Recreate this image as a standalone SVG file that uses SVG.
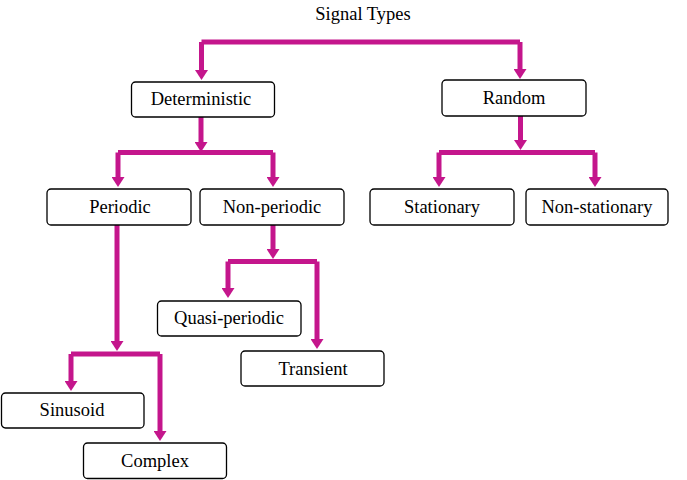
<svg xmlns="http://www.w3.org/2000/svg" width="687" height="480" viewBox="0 0 687 480">
<style>
.box{fill:#fff;stroke:#000;stroke-width:1.3}
.lbl{font-family:"Liberation Serif","Times New Roman",serif;font-size:18.5px;fill:#000;text-anchor:middle}
.c{fill:none;stroke:#C4168C;stroke-width:5;stroke-linejoin:miter;stroke-linecap:butt}
.a{marker-end:url(#ah)}
</style>
<defs>
<marker id="ah" viewBox="0 0 10 13" refX="1" refY="6.5" markerWidth="10" markerHeight="13" markerUnits="userSpaceOnUse" orient="auto">
<path d="M0,0 L10,6.5 L0,13 z" fill="#C4168C"/>
</marker>
</defs>
<rect width="687" height="480" fill="#fff"/>
<text class="lbl" x="363" y="19.5">Signal Types</text>
<g id="connectors">
<path class="c" d="M201.5,42 H520"/>
<path class="c a" d="M201.5,42 V71"/>
<path class="c a" d="M520,42 V70"/>
<path class="c a" d="M201,117 V143"/>
<path class="c" d="M118,152.5 H273"/>
<path class="c a" d="M118,152.5 V178"/>
<path class="c a" d="M273,152.5 V178"/>
<path class="c a" d="M520.5,116 V141"/>
<path class="c" d="M439,152.5 H595"/>
<path class="c a" d="M439,152.5 V178"/>
<path class="c a" d="M595,152.5 V178"/>
<path class="c a" d="M273,225 V250"/>
<path class="c" d="M228,261.5 H317"/>
<path class="c a" d="M228,261.5 V289"/>
<path class="c a" d="M317,261.5 V340"/>
<path class="c a" d="M117,225 V342"/>
<path class="c" d="M71,354 H160"/>
<path class="c a" d="M71,354 V382"/>
<path class="c a" d="M160,354 V432"/>
</g>
<g id="deterministic"><rect class="box" x="131.5" y="82" width="143" height="35" rx="4"/><text class="lbl" x="201" y="105">Deterministic</text></g>
<g id="random"><rect class="box" x="442" y="80" width="144" height="36" rx="4"/><text class="lbl" x="514" y="104">Random</text></g>
<g id="periodic"><rect class="box" x="47" y="189" width="144" height="36" rx="4"/><text class="lbl" x="120" y="213">Periodic</text></g>
<g id="non-periodic"><rect class="box" x="200" y="189" width="144" height="36" rx="4"/><text class="lbl" x="272" y="213">Non-periodic</text></g>
<g id="stationary"><rect class="box" x="370" y="189" width="144" height="36" rx="4"/><text class="lbl" x="442" y="213">Stationary</text></g>
<g id="non-stationary"><rect class="box" x="526" y="189" width="142" height="36" rx="4"/><text class="lbl" x="597" y="213">Non-stationary</text></g>
<g id="quasi-periodic"><rect class="box" x="157.5" y="301" width="143.5" height="35" rx="4"/><text class="lbl" x="229" y="324">Quasi-periodic</text></g>
<g id="transient"><rect class="box" x="241" y="351" width="143" height="35" rx="4"/><text class="lbl" x="313" y="375">Transient</text></g>
<g id="sinusoid"><rect class="box" x="1.5" y="393" width="142.5" height="35" rx="4"/><text class="lbl" x="72" y="416">Sinusoid</text></g>
<g id="complex"><rect class="box" x="83.5" y="443" width="143" height="35.5" rx="4"/><text class="lbl" x="155" y="467">Complex</text></g>
</svg>
